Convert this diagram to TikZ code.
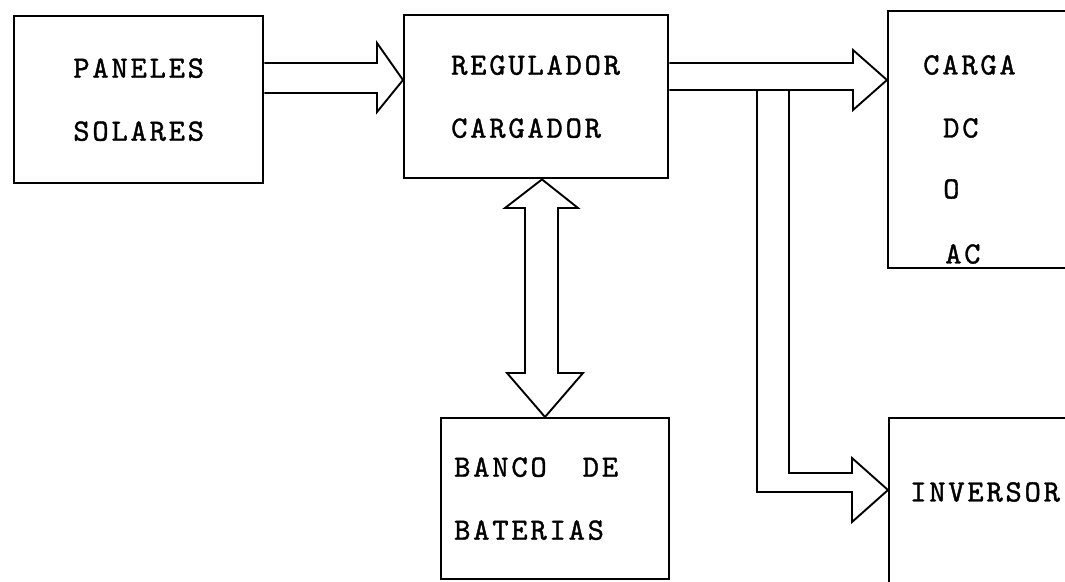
\documentclass[tikz,border=0pt]{standalone}
\usepackage{fontspec}
\newfontfamily\typewriter{lmmono10-regular.otf}[LetterSpace=9,FakeBold=1.2]
\begin{document}
\begin{tikzpicture}[x=1pt,y=-1pt,
  box/.style={draw,line width=2.4pt,anchor=north west,inner ysep=0pt},
  txt/.style={font=\typewriter\fontsize{31}{63}\selectfont},
  boxtxt/.style={txt,align=left},
  fat/.style={draw,line width=1.9pt,line join=miter,fill=white}]
\fill[white] (0,0) rectangle (1065,581);
\useasboundingbox (0,0) rectangle (1065,581);

% boxes
\node[box,txt,align=center,minimum width=249pt,minimum height=167pt] (P) at (13,15) {PANELES\\SOLARES};
\node[box,boxtxt,inner xsep=47pt,text width=170pt,minimum height=163pt] (R) at (403,14) {REGULADOR\\CARGADOR};
\node[box,minimum width=200pt,minimum height=257pt] (C) at (887,10) {};
\node[box,boxtxt,inner xsep=13pt,text width=202pt,minimum height=161pt] (B) at (440,417) {BANCO\hspace*{36pt}DE\\BATERIAS};
\node[box,minimum width=200pt,minimum height=200pt] (I) at (888,417) {};

% texts of the boxes on the right
\node[txt,anchor=west,inner sep=0pt] (c1) at (923,65) {CARGA};
\node[txt,anchor=west,inner sep=0pt] (c2) at (943,128) {DC};
\node[txt,anchor=west,inner sep=0pt] (c3) at (943,189) {O};
\node[txt,anchor=west,inner sep=0pt] (c4) at (945,254) {AC};
\node[txt,anchor=west,inner sep=0pt] (i1) at (910,492) {INVERSOR};

% arrow paneles -> regulador
\path[fat] (P.east |- 0,63) -- (377,63) -- (377,43) -- (R.west |- 0,80)
  -- (377,112) -- (377,93) -- (P.east |- 0,93);

% arrow regulador -> carga
\path[fat] (R.east |- 0,63) -- (853,63) -- (853,50) -- (C.west |- 0,80)
  -- (853,110) -- (853,90) -- (R.east |- 0,90);

% branch to inversor
\coordinate (b1) at (757,90);
\coordinate (b2) at (789,90);
\draw[line width=1.9pt,line join=miter] (b1) -- (757,492) -- (852,492) -- (852,522)
  -- (I.west |- 0,490) -- (852,458) -- (852,473) -- (789,473) -- (b2);

% double arrow regulador <-> banco
\path[fat] (R.south -| 542,0) -- (578,208) -- (558,208) -- (558,373) -- (583,373)
  -- (B.north -| 545,0) -- (507,373) -- (525,373) -- (525,208) -- (505,208) -- cycle;
\end{tikzpicture}
\end{document}
